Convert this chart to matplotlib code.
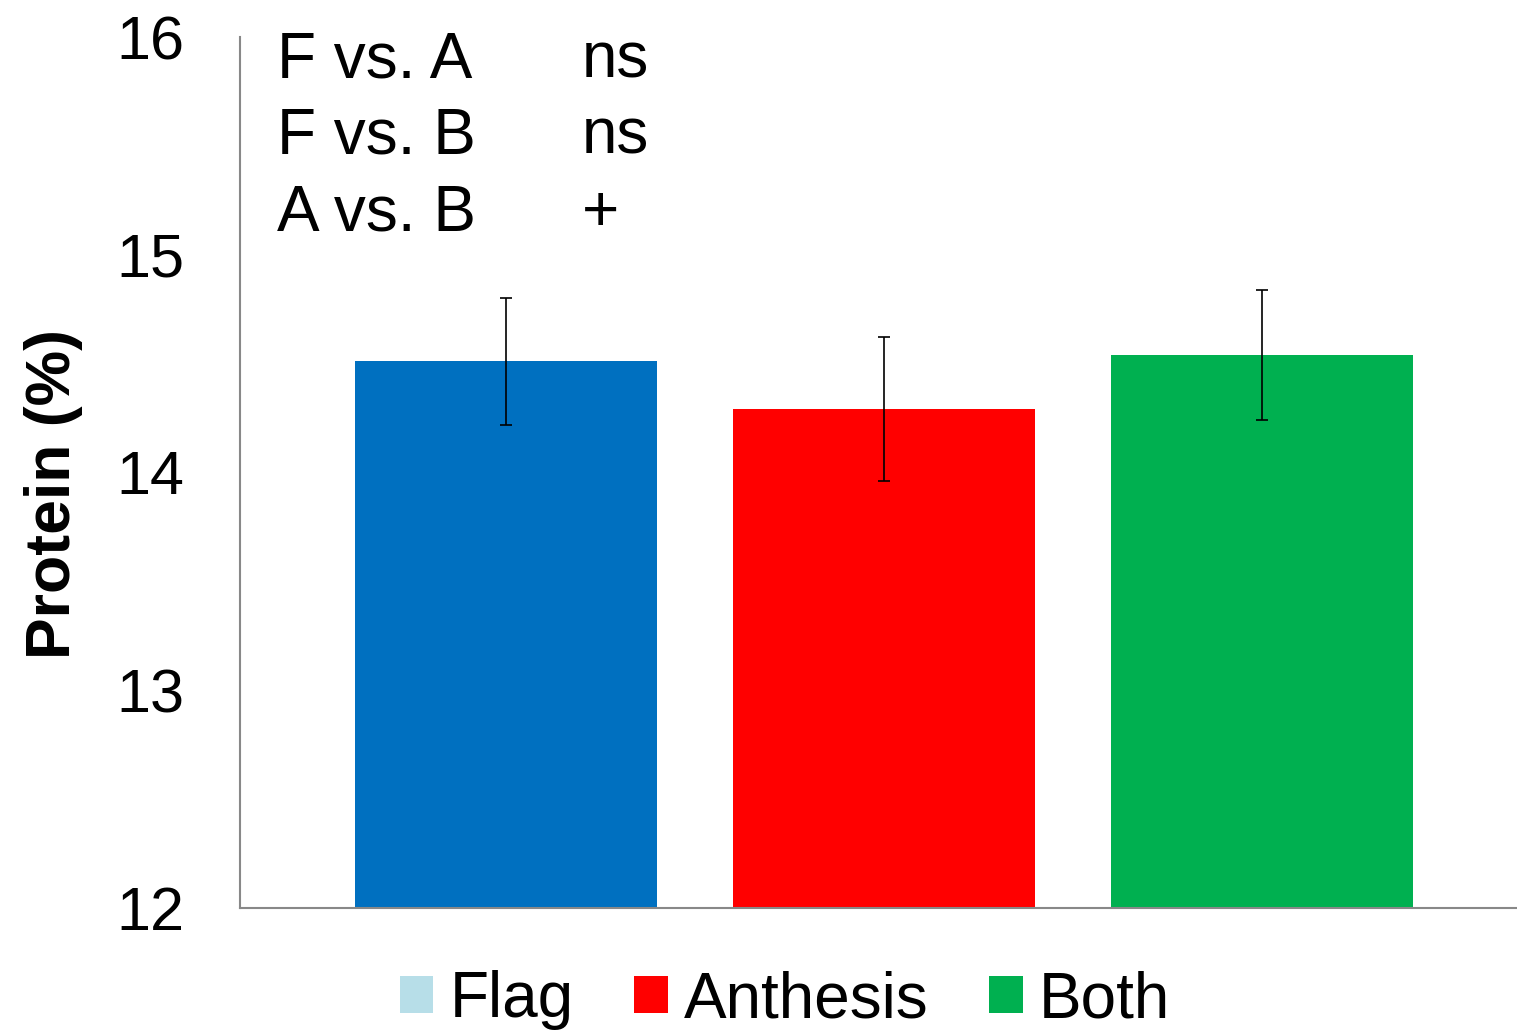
import matplotlib.pyplot as plt
from matplotlib.patches import Patch

plt.rcParams['font.family'] = ['Liberation Sans', 'DejaVu Sans']

# data
groups = ['Flag', 'Anthesis', 'Both']
protein = [14.51, 14.29, 14.54]
err = [0.29, 0.33, 0.30]
bar_colors = ['#0070C0', '#FF0000', '#00B050']
legend_colors = ['#B7DEE8', '#FF0000', '#00B050']

comparisons = ['F vs. A', 'F vs. B', 'A vs. B']
signif = ['ns', 'ns', '+']

W, H = 1517, 1031
fig = plt.figure(figsize=(W / 100, H / 100), dpi=100)
ax = fig.add_axes([240 / W, 1 - 908 / H, 1 - 240 / W, (908 - 37) / H])

x = range(len(groups))
ax.bar(x, [p - 12 for p in protein], bottom=12, width=0.8, color=bar_colors)
ax.errorbar(x, protein, yerr=err, fmt='none', ecolor='black',
            elinewidth=1.2, capsize=4.5, capthick=1.2)

ax.set_xlim(-0.704, 2.675)
ax.set_ylim(12, 16)
ax.set_yticks([12, 13, 14, 15, 16])
ax.set_xticks([])
ax.tick_params(axis='y', length=0, pad=40, labelsize=44)
for s in ['top', 'right']:
    ax.spines[s].set_visible(False)
for s in ['left', 'bottom']:
    ax.spines[s].set_color('#888888')
    ax.spines[s].set_linewidth(1.5)

ax.set_ylabel('Protein (%)', fontsize=45, fontweight='bold')
ax.yaxis.set_label_coords((83 - 240) / (W - 240), 0.475)

for i, (c, s) in enumerate(zip(comparisons, signif)):
    yb = 1 - (77 + i * 77) / H
    fig.text(277 / W, yb, c, fontsize=46, va='baseline', ha='left')
    fig.text(582 / W, yb, s, fontsize=46, va='baseline', ha='left')

handles = [Patch(facecolor=c, edgecolor='none') for c in legend_colors]
fig.legend(handles, groups, loc='center', bbox_to_anchor=(785 / W, 1 - 1000 / H),
           ncol=3, frameon=False, fontsize=46, handlelength=0.53, handleheight=0.53,
           handletextpad=0.25, columnspacing=0.95, borderpad=0, borderaxespad=0)

fig.savefig('out.png', dpi=100)
